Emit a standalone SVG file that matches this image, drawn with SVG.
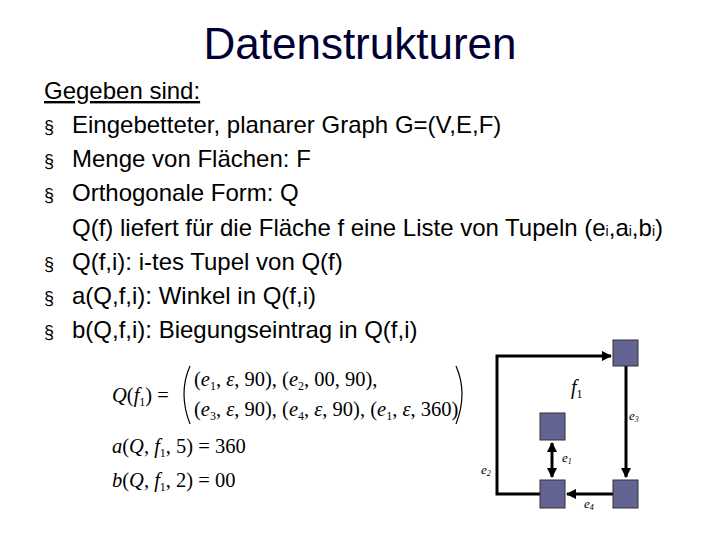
<svg xmlns="http://www.w3.org/2000/svg" width="720" height="540" viewBox="0 0 720 540">
<style>
.t{font-family:"Liberation Sans",Arial,sans-serif;font-size:24px;fill:#000}
.b{font-size:18px}
.m{font-family:"Liberation Serif","Times New Roman",serif;font-size:20.5px;fill:#000}
.s{font-family:"Liberation Serif","Times New Roman",serif;font-size:12px;fill:#000}
.e{font-family:"Liberation Serif","Times New Roman",serif;font-size:13px;font-style:italic;fill:#000}
.n{fill:#636394;stroke:#333;stroke-width:1}
.c{stroke:#000;stroke-width:3;fill:none}
</style>
<defs>
<marker id="a" viewBox="0 0 10 10" refX="9" refY="5" markerWidth="3.5" markerHeight="3.5" orient="auto-start-reverse"><path d="M0,0L10,5L0,10z" fill="#000"/></marker>
</defs>
<rect width="720" height="540" fill="#fff"/>
<text x="360" y="59" text-anchor="middle" font-family="Liberation Sans,Arial,sans-serif" font-size="44" fill="#000033">Datenstrukturen</text>
<g class="t">
<text x="44" y="99" text-decoration="underline">Gegeben sind:</text>
<text x="44" y="133" class="b">§</text><text x="72" y="133">Eingebetteter, planarer Graph G=(V,E,F)</text>
<text x="44" y="167" class="b">§</text><text x="72" y="167">Menge von Flächen: F</text>
<text x="44" y="201" class="b">§</text><text x="72" y="201">Orthogonale Form: Q</text>
<text x="72" y="236">Q(f) liefert für die Fläche f eine Liste von Tupeln (e<tspan font-size="14">i</tspan>,a<tspan font-size="14">i</tspan>,b<tspan font-size="14">i</tspan>)</text>
<text x="44" y="270" class="b">§</text><text x="72" y="270">Q(f,i): i-tes Tupel von Q(f)</text>
<text x="44" y="304" class="b">§</text><text x="72" y="304">a(Q,f,i): Winkel in Q(f,i)</text>
<text x="44" y="338" class="b">§</text><text x="72" y="338">b(Q,f,i): Biegungseintrag in Q(f,i)</text>
</g>
<g id="formula" class="m">
<text x="112" y="402"><tspan font-style="italic">Q</tspan>(<tspan font-style="italic">f</tspan><tspan class="s" dy="4">1</tspan><tspan dy="-4">) =</tspan></text>
<path d="M190,366 Q178,393 190,424" stroke="#000" stroke-width="1.2" fill="none"/>
<path d="M456,366 Q468,393 456,424" stroke="#000" stroke-width="1.2" fill="none"/>
<text x="194" y="386">(<tspan font-style="italic">e</tspan><tspan class="s" dy="4">1</tspan><tspan dy="-4">, </tspan><tspan font-style="italic">ε</tspan>, 90), (<tspan font-style="italic">e</tspan><tspan class="s" dy="4">2</tspan><tspan dy="-4">, 00, 90),</tspan></text>
<text x="194" y="416">(<tspan font-style="italic">e</tspan><tspan class="s" dy="4">3</tspan><tspan dy="-4">, </tspan><tspan font-style="italic">ε</tspan>, 90), (<tspan font-style="italic">e</tspan><tspan class="s" dy="4">4</tspan><tspan dy="-4">, </tspan><tspan font-style="italic">ε</tspan>, 90), (<tspan font-style="italic">e</tspan><tspan class="s" dy="4">1</tspan><tspan dy="-4">, </tspan><tspan font-style="italic">ε</tspan>, 360)</text>
<text x="112" y="453"><tspan font-style="italic">a</tspan>(<tspan font-style="italic">Q</tspan>, <tspan font-style="italic">f</tspan><tspan class="s" dy="4">1</tspan><tspan dy="-4">, 5) = 360</tspan></text>
<text x="112" y="487"><tspan font-style="italic">b</tspan>(<tspan font-style="italic">Q</tspan>, <tspan font-style="italic">f</tspan><tspan class="s" dy="4">1</tspan><tspan dy="-4">, 2) = 00</tspan></text>
</g>
<g id="connectors">
<path class="c" d="M541,494H497V356H611" marker-end="url(#a)"/>
<path class="c" d="M626,366V477" marker-end="url(#a)"/>
<path class="c" d="M614,494H567" marker-end="url(#a)"/>
<path class="c" d="M552,443V477" marker-start="url(#a)" marker-end="url(#a)"/>
</g>
<g id="n1"><rect class="n" x="613" y="340" width="25" height="26"/></g>
<g id="n2"><rect class="n" x="540" y="413" width="25" height="27"/></g>
<g id="n3"><rect class="n" x="540" y="480" width="25" height="28"/></g>
<g id="n4"><rect class="n" x="613" y="480" width="25" height="28"/></g>
<text x="571" y="394" font-family="Liberation Serif,serif" font-size="20" font-style="italic">f<tspan class="s" font-style="normal" dy="4">1</tspan></text>
<text x="629" y="420" class="e">e<tspan font-size="8" dy="2">3</tspan></text>
<text x="562" y="462" class="e">e<tspan font-size="8" dy="2">1</tspan></text>
<text x="481" y="474" class="e">e<tspan font-size="8" dy="2">2</tspan></text>
<text x="584" y="508" class="e">e<tspan font-size="8" dy="2">4</tspan></text>
</svg>
